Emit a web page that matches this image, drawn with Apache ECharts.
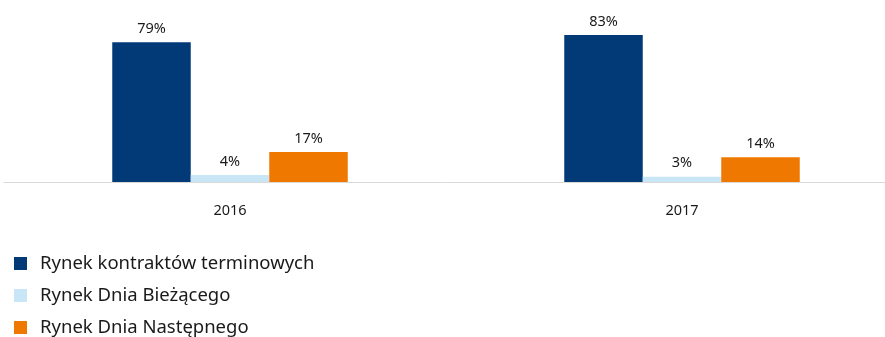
<!DOCTYPE html>
<html>
<head>
<meta charset="utf-8">
<script src="https://cdn.jsdelivr.net/npm/echarts@6/dist/echarts.min.js"></script>
<style>
  html, body { margin: 0; padding: 0; background: #fff; }
  #chart { width: 885px; height: 337px; }
</style>
</head>
<body>
<div id="chart"></div>
<script>
// lata
var years = ['2016', '2017'];
// udzial rynkow (%)
var rynekTerminowy = [79, 83];
var rynekBiezacy = [4, 3];
var rynekNastepny = [17, 14];
var seriesNames = ['Rynek kontraktów terminowych', 'Rynek Dnia Bieżącego', 'Rynek Dnia Następnego'];

var font = 'Noto Sans';

function barSeries(name, values, color) {
	return {
		name: name,
		type: 'bar',
		data: values,
		barWidth: 78.5,
		barGap: '0%',
		itemStyle: { color: color },
		label: {
			show: true,
			position: 'top',
			distance: 6,
			formatter: '{c}%',
			color: '#1a1a1a',
			fontFamily: font,
			fontSize: 14.5
		}
	};
}

var myChart = echarts.init(document.getElementById('chart'));
var option = {
	animation: false,
	grid: { left: 4, width: 904, top: 5, bottom: 155, outerBoundsMode: 'none', containLabel: false },
	legend: {
		orient: 'vertical',
		left: 14,
		top: 254,
		height: 120,
		padding: 0,
		icon: 'rect',
		itemWidth: 13,
		itemHeight: 13,
		itemGap: 13,
		data: seriesNames,
		textStyle: { fontFamily: font, fontSize: 18.5, color: '#1a1a1a', lineHeight: 18, padding: [0, 0, 0, 8] }
	},
	xAxis: {
		type: 'category',
		data: years,
		axisLine: { lineStyle: { color: '#d9d9d9', width: 1 } },
		axisTick: { show: false },
		axisLabel: { margin: 21, color: '#1a1a1a', fontFamily: font, fontSize: 14.5 }
	},
	yAxis: {
		type: 'value',
		min: 0,
		max: 100,
		show: false,
		splitLine: { show: false }
	},
	series: [
		barSeries(seriesNames[0], rynekTerminowy, '#023a78'),
		barSeries(seriesNames[1], rynekBiezacy, '#c9e6f7'),
		barSeries(seriesNames[2], rynekNastepny, '#ef7900')
	]
};
myChart.setOption(option);
</script>
</body>
</html>
